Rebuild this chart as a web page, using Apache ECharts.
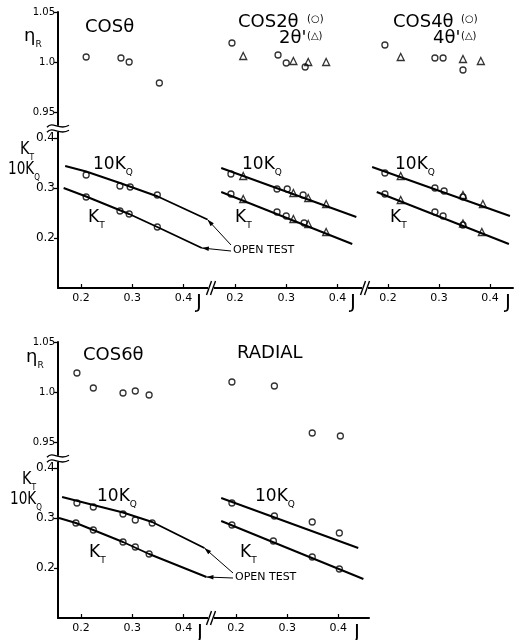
<!DOCTYPE html>
<html>
<head>
<meta charset="utf-8">
<script src="https://cdn.jsdelivr.net/npm/echarts@6/dist/echarts.min.js"></script>
<style>
html,body{margin:0;padding:0;background:#fff}
#main{width:517px;height:640px}
</style>
</head>
<body>
<div id="main"></div>
<script>
// tick labels
var jTicks = [0.2, 0.3, 0.4];
var etaTicks = [0.95, 1.0, 1.05];
var kTicks = [0.2, 0.3, 0.4];

// COSθ  [J, value]
var cos1Eta = [[0.21, 1.005], [0.278, 1.004], [0.294, 1.0], [0.353, 0.979]];
var cos1Kq = [[0.21, 0.326], [0.276, 0.304], [0.296, 0.302], [0.349, 0.286]];
var cos1Kt = [[0.21, 0.282], [0.276, 0.254], [0.294, 0.248], [0.349, 0.222]];
var cos1KqLine = [[0.169, 0.344], [0.21, 0.333], [0.276, 0.31], [0.35, 0.283], [0.447, 0.237]];
var cos1KtLine = [[0.166, 0.30], [0.21, 0.283], [0.294, 0.248], [0.349, 0.222], [0.436, 0.18]];

// COS2θ (circles) / 2θ' (triangles)
var cos2Eta = [[0.194, 1.019], [0.284, 1.007], [0.300, 0.999], [0.337, 0.995]];
var cos2EtaT = [[0.216, 1.006], [0.314, 1.001], [0.343, 1.0], [0.378, 1.0]];
var cos2Kq = [[0.192, 0.328], [0.282, 0.298], [0.302, 0.298], [0.333, 0.286]];
var cos2KqT = [[0.216, 0.324], [0.314, 0.29], [0.343, 0.28], [0.378, 0.268]];
var cos2Kt = [[0.192, 0.288], [0.282, 0.252], [0.300, 0.244], [0.335, 0.23]];
var cos2KtT = [[0.216, 0.278], [0.314, 0.238], [0.343, 0.228], [0.378, 0.212]];
var cos2KqLine = [[0.173, 0.34], [0.437, 0.242]];
var cos2KtLine = [[0.173, 0.292], [0.429, 0.188]];

// COS4θ (circles) / 4θ' (triangles)
var cos4Eta = [[0.194, 1.017], [0.292, 1.004], [0.308, 1.004], [0.347, 0.992]];
var cos4EtaT = [[0.225, 1.005], [0.347, 1.003], [0.382, 1.001]];
var cos4Kq = [[0.194, 0.33], [0.292, 0.30], [0.31, 0.294], [0.347, 0.282]];
var cos4KqT = [[0.225, 0.324], [0.347, 0.286], [0.386, 0.268]];
var cos4Kt = [[0.194, 0.288], [0.292, 0.252], [0.308, 0.244], [0.347, 0.226]];
var cos4KtT = [[0.225, 0.276], [0.347, 0.229], [0.384, 0.212]];
var cos4KqLine = [[0.169, 0.342], [0.439, 0.244]];
var cos4KtLine = [[0.178, 0.292], [0.437, 0.188]];

// COS6θ
var cos6Eta = [[0.192, 1.019], [0.224, 1.004], [0.282, 0.999], [0.306, 1.001], [0.333, 0.997]];
var cos6Kq = [[0.192, 0.33], [0.224, 0.322], [0.282, 0.308], [0.306, 0.296], [0.339, 0.29]];
var cos6Kt = [[0.190, 0.29], [0.224, 0.276], [0.282, 0.252], [0.306, 0.242], [0.333, 0.228]];
var cos6KqLine = [[0.163, 0.342], [0.224, 0.326], [0.282, 0.311], [0.339, 0.292], [0.441, 0.24]];
var cos6KtLine = [[0.157, 0.30], [0.19, 0.29], [0.282, 0.252], [0.333, 0.228], [0.445, 0.182]];

// RADIAL
var radEta = [[0.192, 1.010], [0.275, 1.006], [0.349, 0.959], [0.404, 0.956]];
var radKq = [[0.192, 0.33], [0.275, 0.304], [0.349, 0.292], [0.402, 0.27]];
var radKt = [[0.192, 0.286], [0.273, 0.254], [0.349, 0.222], [0.402, 0.198]];
var radKqLine = [[0.171, 0.34], [0.439, 0.24]];
var radKtLine = [[0.171, 0.294], [0.449, 0.178]];

var FONT = 'DejaVu Sans';

// panel layout: each panel has an eta grid on top and a K grid below
var panels = [
  {left: 58, width: 151, xmin: 0.155, xmax: 0.45, etaTop: 12, kTop: 130.5, axisY: true, jGap: -11},
  {left: 212, width: 151, xmin: 0.155, xmax: 0.45, etaTop: 12, kTop: 130.5, jGap: -13},
  {left: 365, width: 148, xmin: 0.155, xmax: 0.445, etaTop: 12, kTop: 130.5, jGap: -5},
  {left: 58, width: 151, xmin: 0.155, xmax: 0.45, etaTop: 342, kTop: 460.5, axisY: true, jGap: -9},
  {left: 213, width: 156, xmin: 0.155, xmax: 0.46, etaTop: 342, kTop: 460.5, jGap: -12}
];

var grids = [], xAxes = [], yAxes = [];
panels.forEach(function (p) {
  // eta
  grids.push({left: p.left, width: p.width, top: p.etaTop, height: 115, outerBoundsMode: 'none'});
  xAxes.push({type: 'value', gridIndex: grids.length - 1, min: p.xmin, max: p.xmax, show: false});
  yAxes.push({
    type: 'value', gridIndex: grids.length - 1, min: 0.935, max: 1.05, show: !!p.axisY,
    splitLine: {show: false},
    axisLine: {show: true, lineStyle: {color: '#000', width: 2}},
    axisTick: {length: 4, lineStyle: {color: '#000', width: 1.3}, customValues: etaTicks},
    axisLabel: {customValues: etaTicks, color: '#000', fontSize: 10, fontFamily: FONT, margin: 3,
      formatter: function (v) { return Math.abs(v - 1) < 1e-6 ? '1.0' : v.toFixed(2); }}
  });
  // K
  grids.push({left: p.left, width: p.width, top: p.kTop, height: 157.5, outerBoundsMode: 'none'});
  xAxes.push({
    type: 'value', gridIndex: grids.length - 1, min: p.xmin, max: p.xmax,
    splitLine: {show: false},
    axisLine: {onZero: false, lineStyle: {color: '#000', width: 2}},
    axisTick: {inside: true, length: 4, lineStyle: {color: '#000', width: 1.2}, customValues: jTicks},
    axisLabel: {customValues: jTicks, color: '#000', fontSize: 11, fontFamily: FONT, margin: 5,
      formatter: function (v) { return v.toFixed(1); }},
    name: 'J', nameLocation: 'end', nameGap: p.jGap,
    nameTextStyle: {fontSize: 20, fontFamily: FONT, color: '#000', align: 'center', verticalAlign: 'top', padding: [5, 0, 0, 0]}
  });
  yAxes.push({
    type: 'value', gridIndex: grids.length - 1, min: 0.1, max: 0.415, show: !!p.axisY,
    splitLine: {show: false},
    axisLine: {show: true, lineStyle: {color: '#000', width: 2}},
    axisTick: {length: 4, lineStyle: {color: '#000', width: 1.3}, customValues: kTicks},
    axisLabel: {customValues: kTicks, color: '#000', fontSize: 12, fontFamily: FONT, margin: 3,
      formatter: function (v) { return v.toFixed(1); }}
  });
});

function lineS(gi, data) {
  return {type: 'line', xAxisIndex: gi, yAxisIndex: gi, data: data, symbol: 'none', showSymbol: false,
    lineStyle: {color: '#000', width: 1.9}, silent: true, z: 2};
}
function ptS(gi, data, sym) {
  return {type: 'scatter', xAxisIndex: gi, yAxisIndex: gi, data: data, symbol: sym || 'circle',
    symbolSize: sym === 'triangle' ? 7 : 6, silent: true, z: 3,
    itemStyle: {color: 'rgba(0,0,0,0)', borderColor: '#000', borderWidth: 1.3}};
}

var series = [
  ptS(0, cos1Eta), lineS(1, cos1KqLine), lineS(1, cos1KtLine), ptS(1, cos1Kq), ptS(1, cos1Kt),
  ptS(2, cos2Eta), ptS(2, cos2EtaT, 'triangle'), lineS(3, cos2KqLine), lineS(3, cos2KtLine),
  ptS(3, cos2Kq), ptS(3, cos2KqT, 'triangle'), ptS(3, cos2Kt), ptS(3, cos2KtT, 'triangle'),
  ptS(4, cos4Eta), ptS(4, cos4EtaT, 'triangle'), lineS(5, cos4KqLine), lineS(5, cos4KtLine),
  ptS(5, cos4Kq), ptS(5, cos4KqT, 'triangle'), ptS(5, cos4Kt), ptS(5, cos4KtT, 'triangle'),
  ptS(6, cos6Eta), lineS(7, cos6KqLine), lineS(7, cos6KtLine), ptS(7, cos6Kq), ptS(7, cos6Kt),
  ptS(8, radEta), lineS(9, radKqLine), lineS(9, radKtLine), ptS(9, radKq), ptS(9, radKt)
];

var chart = echarts.init(document.getElementById('main'));
chart.setOption({
  animation: false,
  backgroundColor: '#fff',
  grid: grids, xAxis: xAxes, yAxis: yAxes, series: series
});

function px(gi, p) { return chart.convertToPixel({xAxisIndex: gi, yAxisIndex: gi}, p); }
function last(a) { return a[a.length - 1]; }

var rich = {s: {fontSize: 9, fontFamily: FONT, verticalAlign: 'bottom', padding: [0, 0, -4, 0]}};
function txt(x, y, text, size, sx) {
  return {type: 'text', x: x, y: y, z: 50, scaleX: sx || 1,
    style: {text: text, fontSize: size || 18, fontFamily: FONT, fill: '#000', verticalAlign: 'middle', rich: rich}};
}
function leader(tip, tail) {
  var dx = tail[0] - tip[0], dy = tail[1] - tip[1], len = Math.sqrt(dx * dx + dy * dy);
  var ux = dx / len, uy = dy / len;
  var b = [tip[0] + ux * 7, tip[1] + uy * 7];
  return [
    {type: 'line', z: 50, shape: {x1: tip[0], y1: tip[1], x2: tail[0], y2: tail[1]}, style: {stroke: '#000', lineWidth: 1}},
    {type: 'polygon', z: 50, shape: {points: [tip, [b[0] - uy * 2.2, b[1] + ux * 2.2], [b[0] + uy * 2.2, b[1] - ux * 2.2]]}, style: {fill: '#000'}}
  ];
}
function yBreak(gi) {
  var a = px(gi, [panels[gi / 2].xmin, 0.935]);
  var b = px(gi + 1, [panels[gi / 2].xmin, 0.415]);
  var x = a[0], y = (a[1] + b[1]) / 2;
  var out = [{type: 'rect', z: 60, shape: {x: x - 2, y: y - 3, width: 4, height: 6}, style: {fill: '#fff'}}];
  [-2.5, 2.5].forEach(function (o) {
    out.push({type: 'bezierCurve', z: 61,
      shape: {x1: x - 11, y1: y + o + 1, cpx1: x - 5, cpy1: y + o - 6, cpx2: x + 1, cpy2: y + o + 5, x2: x + 11, y2: y + o - 1},
      style: {stroke: '#000', lineWidth: 1.4, fill: null}});
  });
  return out;
}
function xBreak(gi) {
  var p = px(gi, [panels[(gi - 1) / 2].xmax, 0.1]);
  var x = p[0] + 2, y = p[1];
  var out = [{type: 'rect', z: 60, shape: {x: x - 3, y: y - 2, width: 6, height: 4}, style: {fill: '#fff'}}];
  [-2, 2].forEach(function (o) {
    out.push({type: 'line', z: 61, shape: {x1: x + o - 2.5, y1: y + 7, x2: x + o + 2.5, y2: y - 7},
      style: {stroke: '#000', lineWidth: 1.4}});
  });
  return out;
}

var g = [];
// panel titles
g.push(txt(85, 27, 'COSθ'));
g.push(txt(238, 22, 'COS2θ'), txt(307, 19, '(○)', 10), txt(279, 38, "2θ'"), txt(307, 36, '(△)', 10));
g.push(txt(393, 22, 'COS4θ'), txt(461, 19, '(○)', 10), txt(433, 38, "4θ'"), txt(461, 36, '(△)', 10));
g.push(txt(83, 355, 'COS6θ'), txt(237, 353, 'RADIAL'));
// curve labels
[[93, 165], [242, 165], [395, 165], [97, 497], [255, 497]].forEach(function (q) { g.push(txt(q[0], q[1], '10K{s|Q}', 17)); });
[[88, 218], [235, 218], [390, 218], [89, 553], [240, 553]].forEach(function (q) { g.push(txt(q[0], q[1], 'K{s|T}', 17)); });
// axis titles
g.push(txt(24, 36, 'η{s|R}', 18), txt(20, 150, 'K{s|T}', 17, 0.85), txt(8, 170, '10K{s|Q}', 17, 0.8));
g.push(txt(26, 357, 'η{s|R}', 18), txt(22, 480, 'K{s|T}', 17, 0.85), txt(10, 500, '10K{s|Q}', 17, 0.8));
// open test leaders
var t1 = [233, 250], t2 = [235, 577];
g.push(txt(t1[0], t1[1], 'OPEN TEST', 11), txt(t2[0], t2[1], 'OPEN TEST', 11));
g = g.concat(leader(px(1, last(cos1KqLine)), [t1[0] - 2, t1[1] - 5]));
g = g.concat(leader(px(1, last(cos1KtLine)), [t1[0] - 2, t1[1] + 1]));
g = g.concat(leader(px(7, last(cos6KqLine)), [t2[0] - 2, t2[1] - 4]));
g = g.concat(leader(px(7, last(cos6KtLine)), [t2[0] - 2, t2[1] + 1]));
// axis breaks
g = g.concat(yBreak(0), yBreak(6), xBreak(1), xBreak(3), xBreak(7));

chart.setOption({graphic: {elements: g}});
</script>
</body>
</html>
